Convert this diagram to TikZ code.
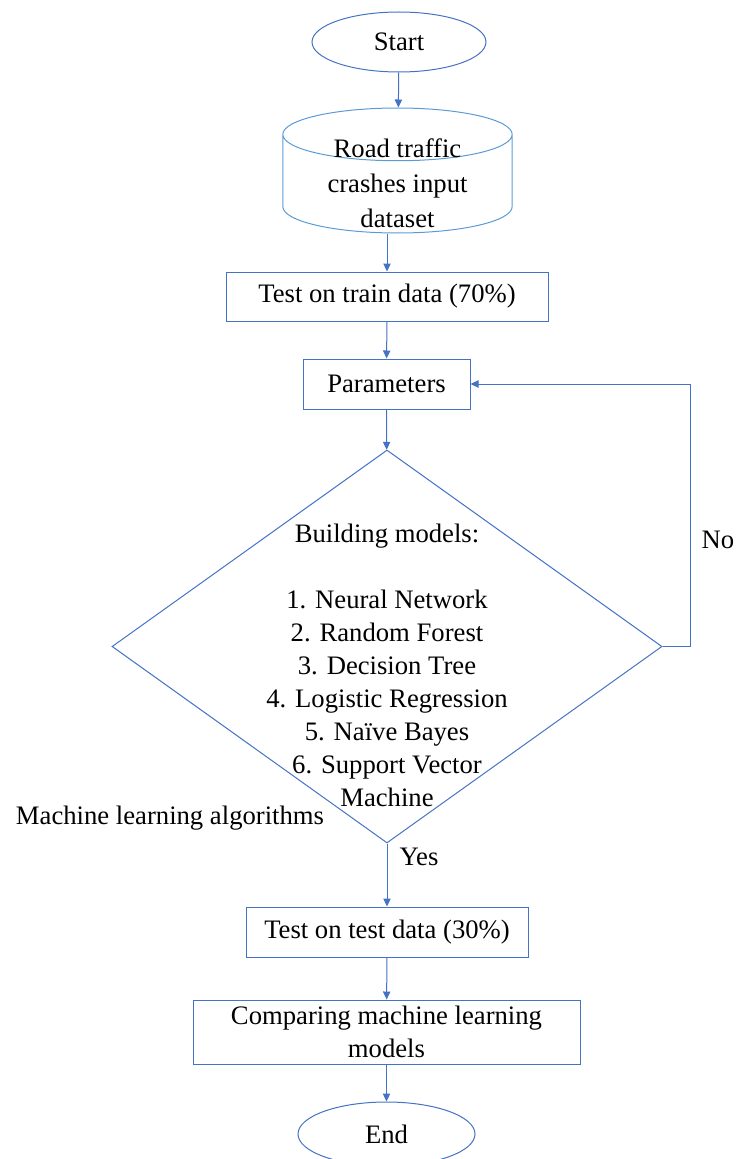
\documentclass[tikz,border=0pt]{standalone}
\usepackage{fontspec}
\setmainfont{Liberation Serif}
\usetikzlibrary{arrows.meta,shapes.geometric}
\definecolor{flowblue}{HTML}{4472C4}
\definecolor{cylblue}{HTML}{5B9BD5}

\begin{document}
\begin{tikzpicture}[x=0.75pt,y=-0.75pt,
    font=\fontsize{20}{25}\selectfont,
    every node/.style={inner sep=0pt,align=center}]
\useasboundingbox (0,0) rectangle (736,1159);

\begin{scope}[every node/.style={draw=flowblue,line width=0.75pt,inner sep=0pt,align=center}]
    \node[ellipse,minimum width=130.5pt,minimum height=45pt] (start) at (399,42) {Start};
    \node[cylinder,shape border rotate=90,draw=cylblue,aspect=0.23,inner xsep=86pt,
          minimum width=172pt,minimum height=93.75pt,anchor=shape center] (data) at (397.5,170.5) {};
    \node[rectangle,minimum width=241.5pt,minimum height=36.75pt] (train) at (387,296.5) {Test on train data (70\%)};
    \node[rectangle,minimum width=125.25pt,minimum height=37.5pt] (params) at (386.5,384) {Parameters};
    \node[diamond,minimum width=412.5pt,minimum height=294.75pt] (dec) at (387,646.5) {};
    \node[rectangle,minimum width=211.5pt,minimum height=37.5pt] (test) at (387,932) {Test on test data (30\%)};
    \node[rectangle,minimum width=290.25pt,minimum height=48pt] (compare) at (386.5,1032) {Comparing machine learning\\models};
    \node[ellipse,minimum width=132.75pt,minimum height=48pt] (end) at (386.5,1134) {End};
\end{scope}

% texts laid over the cylinder and the decision
\node[font=\fontsize{20}{26.25}\selectfont] (datatext) at (397.5,183) {Road traffic\\crashes input\\dataset};
\node[font=\fontsize{20}{24.75}\selectfont] (models) at (387,665)
    {Building models:\\[24.75pt]1. Neural Network\\2. Random Forest\\3. Decision Tree\\4. Logistic Regression\\5. Na\"{\i}ve Bayes\\6. Support Vector\\Machine};
\node (algos) at (170,818) {Machine learning algorithms};
\node (yes) at (419,857) {Yes};
\node (no) at (718,540) {No};
\coordinate (loop) at (690,646.5);

\begin{scope}[every edge/.style={draw=flowblue,line width=0.75pt,-{Triangle[length=6pt,width=5.5pt]}}]
    \path (start) edge (data);
    \path (data.south -| train.north) edge (train);
    \path (train) edge (params);
    \path (params) edge (dec);
    \path (dec) edge (test);
    \path (test) edge (compare);
    \path (compare) edge (end);
\end{scope}
\draw[flowblue,line width=0.75pt,-{Triangle[length=6pt,width=5.5pt]}] (dec.east) -- (loop) |- (params.east);
\end{tikzpicture}
\end{document}
